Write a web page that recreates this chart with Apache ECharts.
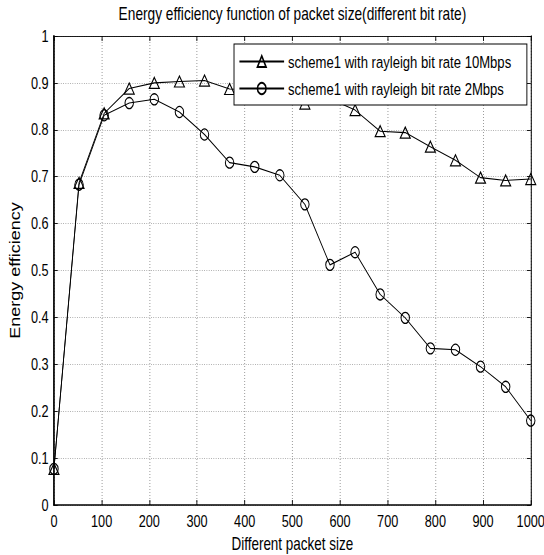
<!DOCTYPE html>
<html><head><meta charset="utf-8">
<script src="https://cdn.jsdelivr.net/npm/echarts@6/dist/echarts.min.js"></script>
<style>
html,body{margin:0;padding:0;background:#fff;overflow:hidden;width:544px;height:555px}
#c{width:706px;height:555px;transform:scaleX(0.770538);transform-origin:0 0}
</style>
</head><body><div id="c"></div>
<script>
const packetSize = [0, 52.6, 105.3, 157.9, 210.5, 263.2, 315.8, 368.4, 421.1, 473.7, 526.3, 578.9, 631.6, 684.2, 736.8, 789.5, 842.1, 894.7, 947.4, 1000];
const rate10Mbps = [0.077, 0.687, 0.835, 0.888, 0.900, 0.903, 0.905, 0.887, 0.886, 0.882, 0.856, 0.866, 0.842, 0.797, 0.794, 0.764, 0.735, 0.698, 0.692, 0.695];
const rate2Mbps  = [0.077, 0.683, 0.831, 0.857, 0.865, 0.838, 0.790, 0.730, 0.721, 0.703, 0.641, 0.512, 0.539, 0.449, 0.399, 0.334, 0.331, 0.295, 0.252, 0.180];
const seriesNames = ['scheme1 with rayleigh bit rate 10Mbps', 'scheme1 with rayleigh bit rate 2Mbps'];
const titleText = 'Energy efficiency function of packet size(different bit rate)';
const xName = 'Different packet size';
const yName = 'Energy efficiency';

const FONT = '"Liberation Sans", Arial, Helvetica, sans-serif';
const chart = echarts.init(document.getElementById('c'), null, {renderer: 'svg', width: 706, height: 555});
const pair = (xs, ys) => xs.map((x, i) => [x, ys[i]]);
const gridLine = {show: true, lineStyle: {color: '#8f8f8f', type: [1, 2], width: 1}};
const tick = {show: true, inside: true, length: 5, lineStyle: {color: '#000', width: 1}};
chart.setOption({
  animation: false,
  backgroundColor: '#fff',
  textStyle: {fontFamily: FONT, color: '#000'},
  title: {text: titleText, left: 379.5, textAlign: 'center', top: 5, padding: 0,
    textStyle: {fontFamily: FONT, fontSize: 17.8, fontWeight: 'normal', color: '#000'}},
  grid: {left: 70, right: 17.2, top: 36, bottom: 50, outerBoundsMode: 'none', containLabel: false},
  legend: {
    left: 303.7, top: 44, orient: 'vertical',
    padding: [9, 20, 8, 6], itemGap: 10, itemWidth: 58, itemHeight: 14,
    backgroundColor: '#fff', borderColor: '#000', borderWidth: 1.2, borderRadius: 0,
    textStyle: {fontFamily: FONT, fontSize: 17, color: '#000'},
    data: seriesNames
  },
  xAxis: [
    {type: 'value', min: 0, max: 1000, interval: 100, position: 'bottom',
     name: xName, nameLocation: 'middle', nameGap: 28,
     nameTextStyle: {fontFamily: FONT, fontSize: 17.5, color: '#000'},
     axisLine: {show: true, onZero: false, lineStyle: {color: '#000', width: 1.5}},
     axisTick: tick,
     axisLabel: {fontFamily: FONT, fontSize: 16.5, color: '#000', margin: 8, formatter: v => String(v)},
     splitLine: gridLine},
    {type: 'value', min: 0, max: 1000, interval: 100, position: 'top',
     axisLine: {show: true, onZero: false, lineStyle: {color: '#000', width: 1}},
     axisTick: tick, axisLabel: {show: false}, splitLine: {show: false}}
  ],
  yAxis: [
    {type: 'value', min: 0, max: 1, interval: 0.1, position: 'left',
     name: yName, nameLocation: 'middle', nameGap: 42, nameRotate: 90,
     nameTextStyle: {fontFamily: FONT, fontSize: 18, color: '#000'},
     axisLine: {show: true, onZero: false, lineStyle: {color: '#000', width: 2.2}},
     axisTick: tick,
     axisLabel: {fontFamily: FONT, fontSize: 16.5, color: '#000', margin: 7},
     splitLine: gridLine},
    {type: 'value', min: 0, max: 1, interval: 0.1, position: 'right',
     axisLine: {show: true, onZero: false, lineStyle: {color: '#000', width: 1.3}},
     axisTick: tick, axisLabel: {show: false}, splitLine: {show: false}}
  ],
  series: [
    {name: seriesNames[0], type: 'line', data: pair(packetSize, rate10Mbps),
     symbol: 'triangle', symbolSize: [13, 11],
     lineStyle: {color: '#000', width: 1.1},
     itemStyle: {color: 'rgba(255,255,255,0)', borderColor: '#000', borderWidth: 1.3}},
    {name: seriesNames[1], type: 'line', data: pair(packetSize, rate2Mbps),
     symbol: 'circle', symbolSize: [11, 11],
     lineStyle: {color: '#000', width: 1.1},
     itemStyle: {color: 'rgba(255,255,255,0)', borderColor: '#000', borderWidth: 1.3}}
  ]
});
</script></body></html>
